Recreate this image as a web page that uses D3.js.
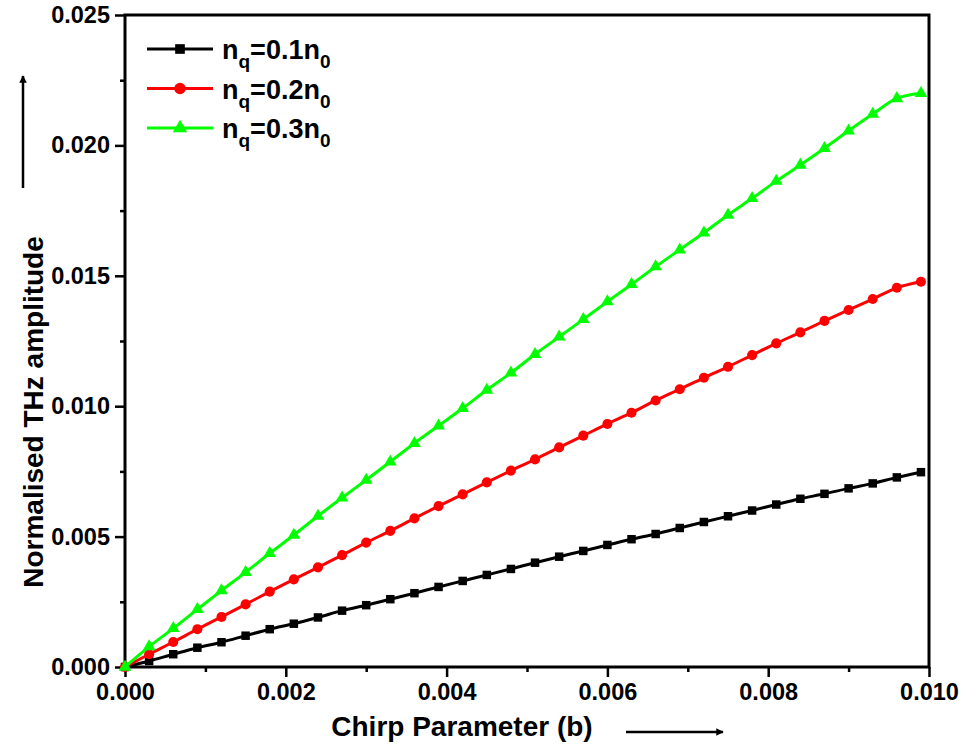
<!DOCTYPE html>
<html>
<head>
<meta charset="utf-8">
<script src="https://cdn.jsdelivr.net/npm/d3@7"></script>
<style>
  body { margin: 0; background: #fff; }
  text { font-family: "Liberation Sans", Arial, sans-serif; font-weight: bold; }
</style>
</head>
<body>
<div id="chart"></div>
<script>
var width = 976, height = 746;
var margin = {top: 15, right: 47, bottom: 79, left: 125};

// chirp parameter b, step 0.0003
var chirp = d3.range(34).map(function (i) { return +(i * 0.0003).toFixed(4); });

var seriesNames = ["0.1", "0.2", "0.3"];
var seriesColors = ["#000000", "#ff0000", "#00ff00"];
var seriesSymbols = ["square", "circle", "triangle"];

var amp01 = [0, 0.00023, 0.00049, 0.00074, 0.00095, 0.0012, 0.00145, 0.00166, 0.0019, 0.00216,
  0.00237, 0.0026, 0.00283, 0.00307, 0.0033, 0.00353, 0.00376, 0.004, 0.00423, 0.00445,
  0.00468, 0.0049, 0.0051, 0.00533, 0.00556, 0.00578, 0.006, 0.00623, 0.00645, 0.00664,
  0.00685, 0.00704, 0.00727, 0.00747];
var amp02 = [0, 0.00049, 0.00096, 0.00145, 0.00192, 0.0024, 0.00289, 0.00336, 0.00382, 0.00429,
  0.00477, 0.00522, 0.0057, 0.00617, 0.00662, 0.00708, 0.00753, 0.00796, 0.00842, 0.00887,
  0.00932, 0.00975, 0.01022, 0.01065, 0.01109, 0.01151, 0.01196, 0.01241, 0.01283, 0.01327,
  0.01369, 0.01411, 0.01454, 0.01477];
var amp03 = [0, 0.00078, 0.00148, 0.00221, 0.00293, 0.00363, 0.00436, 0.00506, 0.00579, 0.00649,
  0.00717, 0.00787, 0.00858, 0.00925, 0.00992, 0.01062, 0.01128, 0.01199, 0.01266, 0.01333,
  0.01401, 0.01467, 0.01535, 0.016, 0.01665, 0.01733, 0.01797, 0.01863, 0.01925, 0.01989,
  0.02056, 0.0212, 0.0218, 0.0220];
var allSeries = [amp01, amp02, amp03];

var xMajor = [0, 0.002, 0.004, 0.006, 0.008, 0.010];
var xMinor = [0.001, 0.003, 0.005, 0.007, 0.009];
var yMajor = [0, 0.005, 0.010, 0.015, 0.020, 0.025];
var yMinor = [0.0025, 0.0075, 0.0125, 0.0175, 0.0225];

var svg = d3.select("#chart").append("svg")
    .attr("width", width)
    .attr("height", height);

var x = d3.scaleLinear().domain([0, 0.010]).range([margin.left, width - margin.right]);
var y = d3.scaleLinear().domain([0, 0.025]).range([height - margin.bottom, margin.top]);

// frame
svg.append("rect")
    .attr("x", x(0)).attr("y", y(0.025))
    .attr("width", x(0.010) - x(0)).attr("height", y(0) - y(0.025))
    .style("fill", "none").style("stroke", "#000").style("stroke-width", 3);

function styleAxis(g) {
    g.select(".domain").remove();
    g.selectAll(".tick line").style("stroke", "#000").style("stroke-width", 2.5);
    g.selectAll(".tick text").style("font-size", "23.5px").style("fill", "#000");
}

svg.append("g")
    .attr("transform", "translate(0," + y(0) + ")")
    .call(d3.axisBottom(x).tickValues(xMajor).tickSize(10).tickPadding(6).tickFormat(d3.format(".3f")))
    .call(styleAxis);
svg.append("g")
    .attr("transform", "translate(0," + y(0) + ")")
    .call(d3.axisBottom(x).tickValues(xMinor).tickSize(5).tickFormat(""))
    .call(styleAxis);
svg.append("g")
    .attr("transform", "translate(" + x(0) + ",0)")
    .call(d3.axisLeft(y).tickValues(yMajor).tickSize(10).tickPadding(5).tickFormat(d3.format(".3f")))
    .call(styleAxis);
svg.append("g")
    .attr("transform", "translate(" + x(0) + ",0)")
    .call(d3.axisLeft(y).tickValues(yMinor).tickSize(5).tickFormat(""))
    .call(styleAxis);

// series
var line = d3.line()
    .x(function (d) { return x(d[0]); })
    .y(function (d) { return y(d[1]); })
    .curve(d3.curveCatmullRom);

var symbolTypes = {square: d3.symbolSquare, circle: d3.symbolCircle, triangle: d3.symbolTriangle};
var symbolSizes = {square: 72, circle: 80, triangle: 70};

allSeries.forEach(function (vals, k) {
    var pts = chirp.map(function (c, i) { return [c, vals[i]]; });
    svg.append("path")
        .datum(pts)
        .attr("d", line)
        .style("fill", "none")
        .style("stroke", seriesColors[k])
        .style("stroke-width", 3);
    svg.append("g").selectAll("path")
        .data(pts)
        .enter()
        .append("path")
        .attr("transform", function (d) { return "translate(" + x(d[0]) + "," + y(d[1]) + ")"; })
        .attr("d", d3.symbol().type(symbolTypes[seriesSymbols[k]]).size(symbolSizes[seriesSymbols[k]]))
        .style("fill", seriesColors[k]);
});

// legend
var legend = svg.append("g");
seriesNames.forEach(function (name, k) {
    var ly = 49 + k * 39.5;
    legend.append("line")
        .attr("x1", 147).attr("x2", 213).attr("y1", ly).attr("y2", ly)
        .style("stroke", seriesColors[k]).style("stroke-width", 3);
    legend.append("path")
        .attr("transform", "translate(180," + ly + ")")
        .attr("d", d3.symbol().type(symbolTypes[seriesSymbols[k]]).size(symbolSizes[seriesSymbols[k]] * 1.3))
        .style("fill", seriesColors[k]);
    var t = legend.append("text")
        .attr("x", 222).attr("y", ly + 10)
        .style("font-size", "27px");
    t.append("tspan").text("n");
    t.append("tspan").attr("dy", 9).style("font-size", "19px").text("q");
    t.append("tspan").attr("dy", -9).text("=" + name + "n");
    t.append("tspan").attr("dy", 9).style("font-size", "19px").text("0");
});

// axis titles
svg.append("text")
    .attr("x", 462).attr("y", 736)
    .attr("text-anchor", "middle")
    .style("font-size", "28px")
    .text("Chirp Parameter (b)");
svg.append("text")
    .attr("transform", "translate(43,412) rotate(-90)")
    .attr("text-anchor", "middle")
    .style("font-size", "28px")
    .text("Normalised THz amplitude");

// arrows
var defs = svg.append("defs");
defs.append("marker")
    .attr("id", "head")
    .attr("viewBox", "0 0 10 10")
    .attr("refX", 9).attr("refY", 5)
    .attr("markerWidth", 4).attr("markerHeight", 3)
    .attr("orient", "auto")
    .append("path").attr("d", "M0,0L10,5L0,10Z").style("fill", "#000");

svg.append("line")
    .attr("x1", 23).attr("y1", 188).attr("x2", 23).attr("y2", 76)
    .style("stroke", "#000").style("stroke-width", 2.5)
    .attr("marker-end", "url(#head)");
svg.append("line")
    .attr("x1", 626).attr("y1", 732).attr("x2", 723).attr("y2", 732)
    .style("stroke", "#000").style("stroke-width", 2.5)
    .attr("marker-end", "url(#head)");
</script>
</body>
</html>
